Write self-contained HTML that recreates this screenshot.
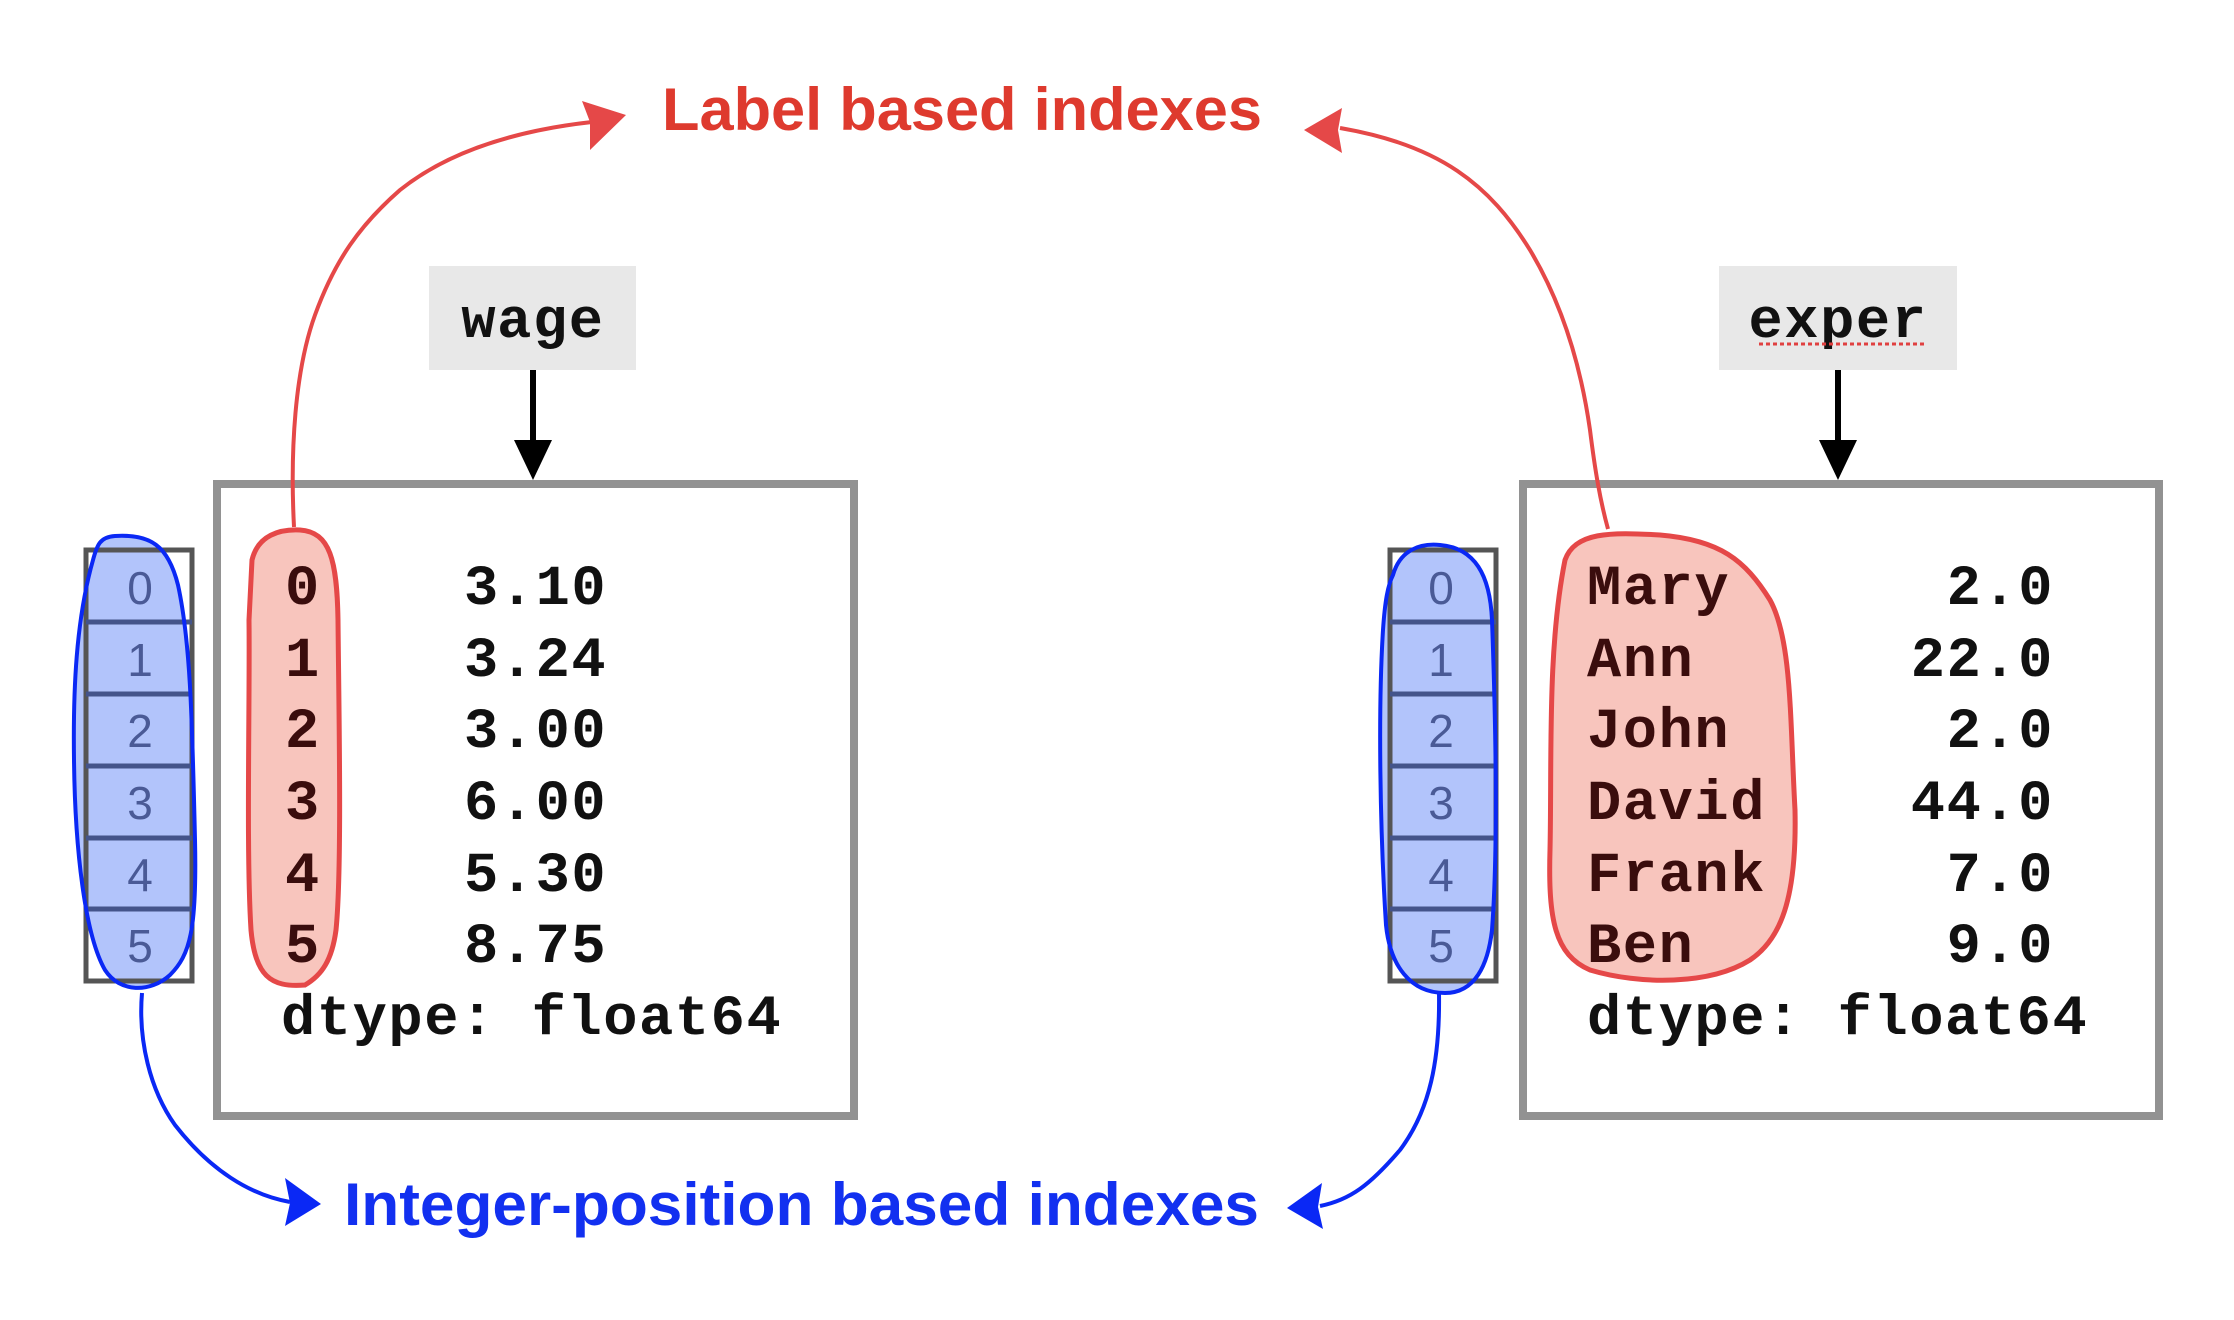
<!DOCTYPE html>
<html><head><meta charset="utf-8"><style>
html,body{margin:0;padding:0;background:#fff}
svg{display:block}
.mono{font-family:"Liberation Mono","Courier New",monospace;font-size:57px;font-weight:bold;letter-spacing:1.6px}
.lbl{font-family:"Liberation Sans",sans-serif;font-weight:bold;font-size:60px}
.num{font-family:"Liberation Sans",sans-serif;font-size:46px;fill:#4a5a96}
</style></head><body>
<svg width="2234" height="1320" viewBox="0 0 2234 1320" xmlns="http://www.w3.org/2000/svg">
<text class="lbl" x="662" y="130" fill="#de3a2e" textLength="600" lengthAdjust="spacingAndGlyphs">Label based indexes</text>
<text class="lbl" x="344" y="1225" fill="#1230f0" textLength="915" lengthAdjust="spacingAndGlyphs">Integer-position based indexes</text>

<rect x="429" y="266" width="207" height="104" fill="#e8e8e8"/>
<text class="mono" x="533" y="337" text-anchor="middle" fill="#111">wage</text>
<rect x="1719" y="266" width="238" height="104" fill="#e8e8e8"/>
<text class="mono" x="1838" y="337" text-anchor="middle" fill="#111">exper</text>
<line x1="1759" y1="344" x2="1926" y2="344" stroke="#e04040" stroke-width="3" stroke-dasharray="4,3"/>

<line x1="533" y1="370" x2="533" y2="445" stroke="#000" stroke-width="6"/>
<polygon points="514,440 552,440 533,480" fill="#000"/>
<line x1="1838" y1="370" x2="1838" y2="445" stroke="#000" stroke-width="6"/>
<polygon points="1819,440 1857,440 1838,480" fill="#000"/>

<rect x="217" y="484" width="637" height="632" fill="none" stroke="#929292" stroke-width="8"/>
<rect x="1523" y="484" width="636" height="632" fill="none" stroke="#929292" stroke-width="8"/>

<path d="M252,560 C258,535 280,529 300,530 C330,532 337,560 338,620 C339,720 342,870 336,930 C332,960 322,975 305,985 C270,988 255,975 251,930 C246,850 250,700 249,620 Z" fill="#f8c5bd" stroke="#e54848" stroke-width="5"/>
<path d="M1565,560 C1575,532 1610,532 1660,535 C1720,540 1745,560 1770,600 C1792,640 1790,720 1795,810 C1797,900 1780,940 1750,960 C1710,985 1640,985 1590,970 C1555,955 1548,920 1550,850 C1552,760 1547,650 1565,560 Z" fill="#f8c5bd" stroke="#e54848" stroke-width="5"/>

<g class="mono" fill="#3a0d0d">
<text x="285" y="604">0</text><text x="285" y="676">1</text><text x="285" y="747">2</text><text x="285" y="819">3</text><text x="285" y="891">4</text><text x="285" y="962">5</text>
<text x="1587" y="604">Mary</text><text x="1587" y="676">Ann</text><text x="1587" y="747">John</text><text x="1587" y="819">David</text><text x="1587" y="891">Frank</text><text x="1587" y="962">Ben</text>
</g>
<g class="mono" fill="#111">
<text x="464" y="604">3.10</text><text x="464" y="676">3.24</text><text x="464" y="747">3.00</text><text x="464" y="819">6.00</text><text x="464" y="891">5.30</text><text x="464" y="962">8.75</text>
<text x="281" y="1034">dtype: float64</text>
<g text-anchor="end">
<text x="2054" y="604">2.0</text><text x="2054" y="676">22.0</text><text x="2054" y="747">2.0</text><text x="2054" y="819">44.0</text><text x="2054" y="891">7.0</text><text x="2054" y="962">9.0</text>
</g>
<text x="1587" y="1034">dtype: float64</text>
</g>

<path d="M93,560 C97,545 100,537 115,536 C150,534 168,545 178,585 C190,640 192,710 195,840 C197,930 190,955 170,975 C150,993 120,993 105,970 C85,935 75,850 74,760 C73,690 76,620 93,560 Z" fill="#b2c4fb"/>
<path d="M1393,575 C1400,550 1420,543 1440,545 C1475,548 1490,575 1492,620 C1496,730 1498,850 1492,930 C1488,965 1475,993 1445,993 C1410,993 1390,965 1386,925 C1380,830 1378,710 1383,630 C1385,600 1388,585 1393,575 Z" fill="#b2c4fb"/>

<g fill="none" stroke="#555" stroke-width="5">
<rect x="86" y="550" width="106" height="431"/>
<rect x="1390" y="550" width="106" height="431"/>
</g>
<g stroke="#44548a" stroke-width="5">
<line x1="86" y1="622" x2="192" y2="622"/><line x1="86" y1="694" x2="192" y2="694"/><line x1="86" y1="766" x2="192" y2="766"/><line x1="86" y1="838" x2="192" y2="838"/><line x1="86" y1="909" x2="192" y2="909"/>
<line x1="1390" y1="622" x2="1496" y2="622"/><line x1="1390" y1="694" x2="1496" y2="694"/><line x1="1390" y1="766" x2="1496" y2="766"/><line x1="1390" y1="838" x2="1496" y2="838"/><line x1="1390" y1="909" x2="1496" y2="909"/>
</g>
<g class="num" text-anchor="middle">
<text x="140" y="604">0</text><text x="140" y="676">1</text><text x="140" y="747">2</text><text x="140" y="819">3</text><text x="140" y="891">4</text><text x="140" y="962">5</text>
<text x="1441" y="604">0</text><text x="1441" y="676">1</text><text x="1441" y="747">2</text><text x="1441" y="819">3</text><text x="1441" y="891">4</text><text x="1441" y="962">5</text>
</g>
<path d="M93,560 C97,545 100,537 115,536 C150,534 168,545 178,585 C190,640 192,710 195,840 C197,930 190,955 170,975 C150,993 120,993 105,970 C85,935 75,850 74,760 C73,690 76,620 93,560 Z" fill="none" stroke="#0a28f5" stroke-width="4"/>
<path d="M1393,575 C1400,550 1420,543 1440,545 C1475,548 1490,575 1492,620 C1496,730 1498,850 1492,930 C1488,965 1475,993 1445,993 C1410,993 1390,965 1386,925 C1380,830 1378,710 1383,630 C1385,600 1388,585 1393,575 Z" fill="none" stroke="#0a28f5" stroke-width="4"/>

<path d="M294,527 C290,450 295,370 315,315 C335,260 360,225 400,190 C450,150 520,130 592,122" fill="none" stroke="#e54848" stroke-width="4"/>
<polygon points="626,115 582,101 590,122 590,150" fill="#e54848"/>
<path d="M1608,529 C1600,500 1595,470 1590,430 C1580,360 1560,300 1530,250 C1490,185 1440,145 1340,128" fill="none" stroke="#e54848" stroke-width="4"/>
<polygon points="1304,130 1342,108 1338,130 1342,153" fill="#e54848"/>
<path d="M142,993 C138,1040 150,1090 175,1125 C210,1170 250,1195 290,1202" fill="none" stroke="#0a28f5" stroke-width="4"/>
<polygon points="321,1204 285,1178 290,1203 285,1226" fill="#0a28f5"/>
<path d="M1439,993 C1440,1060 1430,1110 1400,1150 C1370,1185 1350,1200 1320,1206" fill="none" stroke="#0a28f5" stroke-width="4"/>
<polygon points="1287,1208 1322,1183 1318,1207 1323,1229" fill="#0a28f5"/>
</svg>
</body></html>
